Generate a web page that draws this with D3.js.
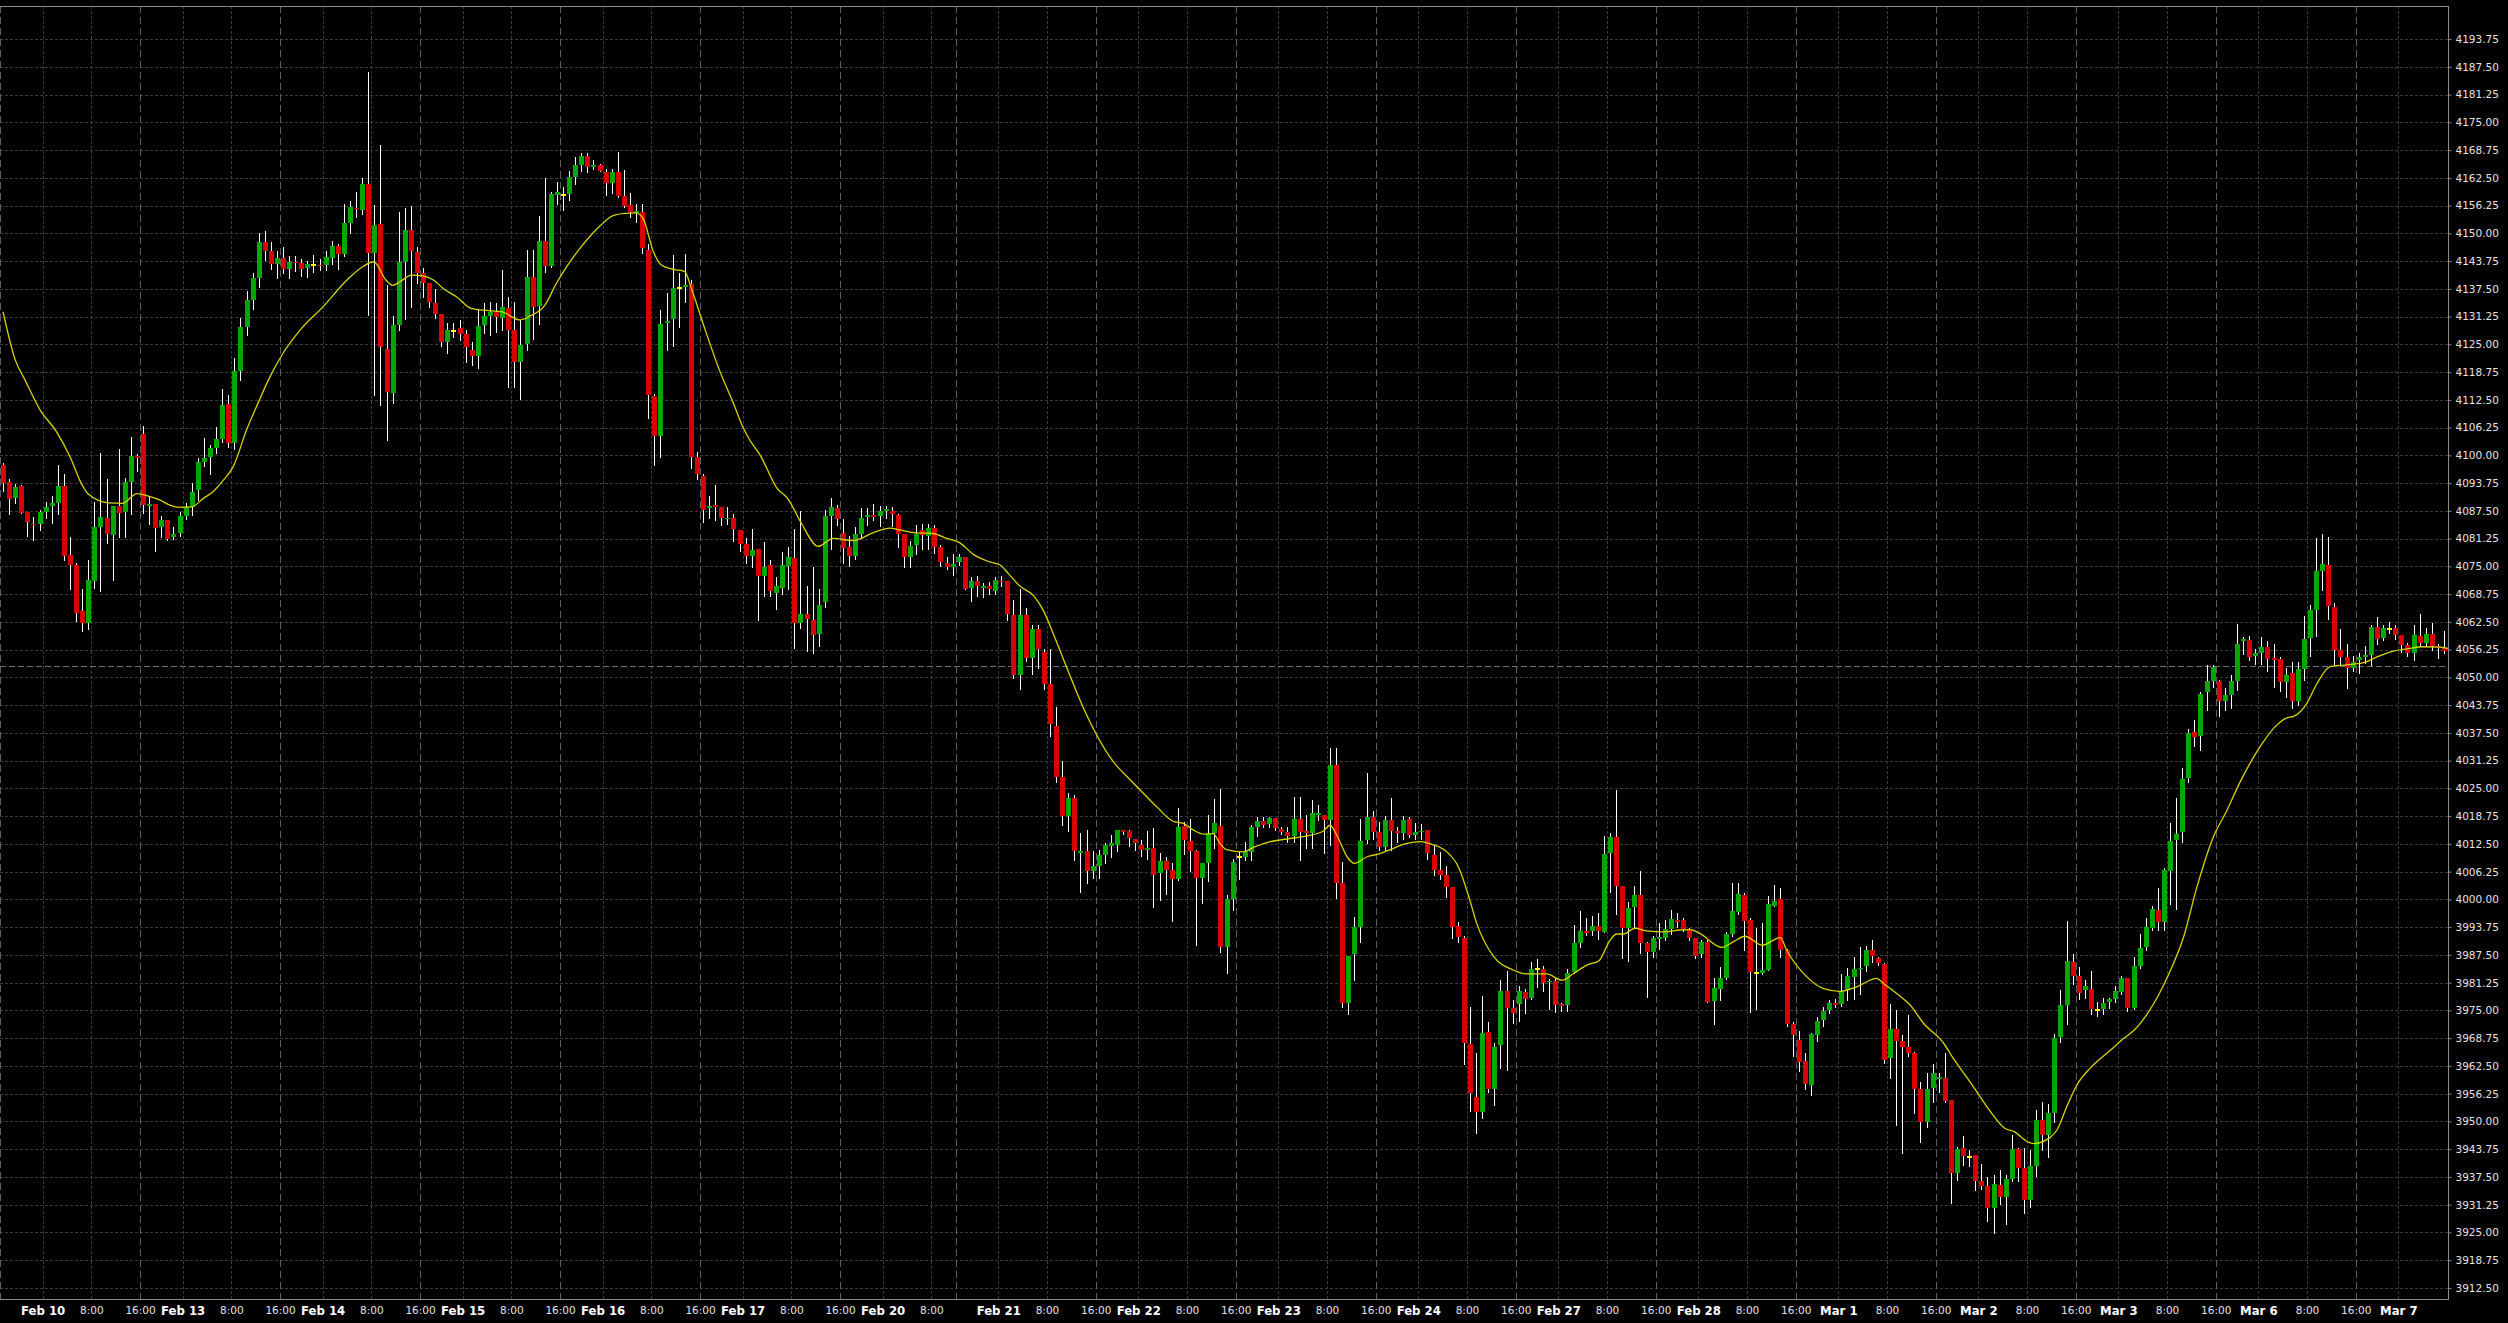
<!DOCTYPE html>
<html><head><meta charset="utf-8">
<script src="https://cdn.jsdelivr.net/npm/d3@7"></script>
<style>html,body{margin:0;padding:0;background:#000;overflow:hidden}</style>
</head><body>
<svg id="chart" width="2508" height="1323"></svg>
<script>
// ---------- DATA ----------
const sessionDays = ["Feb 9","Feb 10","Feb 13","Feb 14","Feb 15","Feb 16","Feb 17","Feb 20","Feb 21","Feb 22","Feb 23","Feb 24","Feb 27","Feb 28","Mar 1","Mar 2","Mar 3","Mar 6","Mar 7"];
const sessionFirstHour = [16,0,0,0,0,0,0,0,0,0,0,0,0,0,0,0,0,0,0];
const sessionLastHour  = [22,22,22,22,22,22,22,22,22,22,22,22,22,22,22,22,22,22,7];
const haltedHours = {"Feb 20":[12,13,14,15]};
const hiddenTimeLabels = ["Feb 9 16:00","Feb 20 16:00"];
const priceTicks = [3912.50,3918.75,3925.00,3931.25,3937.50,3943.75,3950.00,3956.25,3962.50,3968.75,3975.00,3981.25,3987.50,3993.75,4000.00,4006.25,4012.50,4018.75,4025.00,4031.25,4037.50,4043.75,4050.00,4056.25,4062.50,4068.75,4075.00,4081.25,4087.50,4093.75,4100.00,4106.25,4112.50,4118.75,4125.00,4131.25,4137.50,4143.75,4150.00,4156.25,4162.50,4168.75,4175.00,4181.25,4187.50,4193.75];
const levelLine = 4052.6;

const opens = [
4097.8,4093.9,4090.45,4093.1,4087.2,4084.6,4084.6,4087.2,4088.6,4089.2,
4093.1,4077.5,4075.3,4065.0,4062.3,4071.8,4083.9,4085.9,4082.1,4088.7,
4087.3,4094.05,4099.8,4104.8,4088.7,4089.0,4083.8,4085.4,4081.6,4082.6,
4086.4,4088.3,4092.3,4098.6,4099.7,4101.6,4103.7,4111.5,4102.7,4119,
4129,4135,4140,4148,4146,4143,4144.5,4142,4143.5,4143.4,
4142.2,4142.85,4142.9,4142.9,4144.5,4147.1,4145.4,4152.4,4155.8,4155.3,
4161.1,4145.5,4152.1,4123.9,4114.1,4129.3,4143.6,4150.7,4145.85,4141.0,
4138.9,4134.2,4131.8,4125.6,4128.05,4128.6,4127.4,4123.8,4122.4,4129.3,
4131.3,4132.3,4131.0,4133.2,4128.2,4121.1,4125.0,4140.2,4133.6,4148.2,
4142.7,4158.7,4158.6,4158.8,4162.6,4165.3,4167.4,4165.0,4165.3,4163.9,
4161.4,4163.9,4158.5,4156.4,4154.6,4154.9,4146.2,4113.3,4104.3,4129.9,
4130.6,4137.7,4138.0,4138.5,4099.6,4095.3,4088.1,4088.9,4088.4,4085.6,
4085.8,4083.2,4080.0,4077.4,4079.0,4072.9,4075.3,4069.1,4070.2,4075.1,
4076.9,4062.2,4064.3,4062.9,4059.8,4066.9,4086.3,4088.1,4082.6,4079.3,
4077.4,4082.4,4086.1,4086.6,4086.3,4087.5,4087.5,4086.5,4082.2,4077.2,
4079.8,4083.2,4081.9,4083.7,4079.3,4075.8,4074.9,4075.9,4077.0,4070.2,
4071.7,4070.2,4070.6,4069.4,4071.8,4071.7,4064.0,4050.5,4064.0,4054.4,
4060.9,4055.8,4048.5,4039.1,4027.6,4018.8,4022.9,4010.5,4011.0,4006.3,
4007.5,4010.0,4012.1,4012.2,4015.6,4015.4,4013.6,4012.2,4011.2,4011.5,
4005.9,4008.6,4006.6,4004.5,4016.5,4013.1,4010.9,4004.9,4008.2,4015.0,
4016.5,3989.2,4000.0,4009.6,4009.6,4010.7,4016.4,4017.6,4016.9,4018.4,
4015.8,4015.2,4014.2,4018.2,4015.4,4015.0,4019.1,4019.0,4017.9,4030.2,
4003.7,3976.7,3987.8,3993.8,4013.3,4018.5,4015.2,4011.8,4017.9,4015.5,
4015.0,4018.0,4014.6,4015.1,4015.6,4010.0,4006.7,4005.5,4002.8,3994.0,
3991.2,3967.4,3955.5,3952.2,3970.2,3957.4,3967.3,3979.3,3975.6,3976.4,
3979.2,3977.8,3984.4,3984.4,3981.3,3981.6,3976.4,3976.3,3983.7,3990.2,
3992.8,3992.9,3993.9,3992.7,4010.5,4014.0,4003.1,3993.6,3998.3,4001.0,
3990.2,3988.2,3991.1,3991.3,3993.4,3995.3,3995.3,3993.2,3991.2,3987.6,
3990.4,3977.2,3979.9,3982.4,3992.3,3997.2,4000.9,3995.3,3983.5,3983.5,
3984.2,3998.6,4000.0,3988.6,3972.0,3968.3,3963.6,3958.2,3969.4,3972.9,
3975.1,3976.6,3976.4,3979.6,3982.6,3984.3,3984.9,3988.6,3986.9,3985.4,
3964.2,3970.7,3968.2,3966.7,3965.5,3957.2,3949.9,3957.6,3959.6,3959.7,
3954.8,3938.3,3943.9,3942.0,3942.4,3936.6,3935.4,3930.6,3935.6,3932.9,
3937.1,3943.7,3939.6,3932.4,3939.9,3950.4,3946.9,3951.9,3969.1,3976.2,
3985.9,3982.7,3979.7,3979.9,3975.1,3975.2,3977.0,3977.6,3979.2,3982.2,
3975.5,3984.9,3989.2,3993.5,3997.6,3994.8,4006.4,4013.4,4015.1,4027.4,
4037.7,4036.9,4046.8,4049.2,4049.2,4044.7,4046.0,4049.2,4058.2,4058.5,
4054.8,4055.5,4056.8,4054.4,4054.2,4049.0,4050.9,4044.7,4051.9,4058.9,
4065.2,4074.0,4075.4,4065.9,4056.2,4054.6,4052.2,4054.0,4054.6,4055.1,
4061.4,4058.8,4060.9,4061.2,4059.5,4057.3,4055.5,4059.3,4057.8,4059.7,
4057.0,4056.7];

const highs = [
4098.2,4094.65,4093.5,4093.3,4087.2,4086.1,4087.8,4089.5,4090.8,4097.8,
4095.8,4081.7,4075.7,4070.0,4076.4,4089.4,4100.6,4094.65,4088.7,4101.4,
4094.9,4104.1,4100.3,4106.7,4090.8,4089.0,4086.3,4085.4,4083.9,4087.2,
4089.2,4093.7,4099.4,4103.9,4102.3,4106.4,4114.9,4113.6,4122,4131,
4137,4141,4150,4150.5,4148,4146,4147,4145,4145,4144.3,
4143.8,4145.1,4144.3,4146.1,4148.2,4147.7,4156.5,4157.2,4159.3,4162.4,
4186.3,4156.4,4169.9,4138.3,4131.4,4154.9,4155.6,4156.2,4147.0,4142.1,
4138.9,4137.4,4131.8,4129.7,4129.7,4130.4,4128.2,4125.6,4132.7,4134.4,
4134.6,4134.2,4141.7,4135.7,4134.6,4130.5,4146.2,4146.2,4153.9,4162.4,
4159.4,4161.6,4160.5,4164.1,4167.2,4168.0,4168.0,4166.5,4165.7,4164.4,
4164.4,4168.4,4164.2,4159.1,4156.7,4156.7,4147.5,4113.9,4132.7,4136.6,
4145.1,4141.0,4145.3,4139.5,4100.8,4095.8,4090.9,4093.4,4088.4,4088.4,
4086.7,4083.2,4081.3,4083.4,4079.0,4080.5,4076.4,4072.5,4078.2,4079.3,
4083.4,4087.5,4070.5,4074.9,4069.8,4087.8,4090.3,4088.8,4085.7,4081.9,
4083.9,4088.1,4088.1,4089.1,4088.6,4088.6,4088.4,4086.7,4082.4,4080.8,
4084.4,4084.6,4084.6,4084.4,4079.8,4077.0,4077.8,4077.7,4077.2,4072.5,
4072.9,4071.2,4071.5,4072.5,4072.9,4071.7,4067.4,4070.0,4065.6,4061.7,
4061.9,4056.5,4056.3,4043.3,4031.2,4023.9,4023.6,4014.9,4015.7,4010.8,
4011.1,4012.7,4014.5,4015.7,4015.7,4015.6,4013.6,4013.3,4015.4,4016.1,
4010.5,4009.6,4008.2,4020.6,4017.5,4018.2,4011.2,4008.1,4019.0,4022.6,
4024.8,4001.0,4009.2,4010.9,4012.9,4016.7,4018.6,4018.6,4018.6,4018.4,
4016.3,4016.3,4023.1,4023.0,4019.0,4022.4,4021.2,4019.0,4034.0,4034.0,
4008.5,3987.2,3996.1,4018.2,4028.4,4019.9,4017.5,4018.8,4022.9,4016.3,
4018.8,4018.5,4017.1,4016.9,4015.6,4012.2,4010.7,4007.5,4002.8,3995.0,
3991.7,3975.8,3965.4,3978.2,3972.4,3967.6,3981.9,3983.8,3977.3,3980.5,
3979.9,3985.9,3986.5,3984.9,3982.0,3982.2,3976.7,3984.4,3994.2,3997.3,
3995.8,3996.2,3997.0,4014.3,4015.0,4024.6,4003.1,3999.5,4003.0,4006.4,
3990.5,3991.7,3994.6,3995.3,3997.7,3997.0,3995.7,3993.5,3991.4,3990.8,
3990.8,3982.3,3984.8,3992.7,4003.7,4003.6,4001.5,3995.9,3993.5,3994.6,
4000.7,4003.2,4002.5,3988.9,3972.4,3970.4,3965.3,3970.0,3973.6,3975.8,
3977.3,3977.5,3983.1,3984.6,3987.1,3989.3,3989.5,3990.8,3987.1,3985.6,
3976.4,3975.1,3969.4,3973.9,3965.7,3958.9,3960.9,3962.9,3960.8,3965.3,
3954.8,3944.3,3946.7,3943.5,3942.4,3940.4,3937.5,3937.9,3939.0,3937.9,
3946.9,3943.9,3944.1,3943.5,3952.5,3954.4,3954.0,3969.7,3979.6,3995.1,
3987.8,3984.8,3981.8,3983.9,3977.0,3977.9,3977.9,3980.6,3982.7,3982.2,
3987.0,3992.2,3995.9,3998.6,4002.5,4007.0,4017.2,4022.8,4029.6,4038.4,
4040.4,4046.8,4052.8,4052.8,4049.5,4047.6,4050.6,4062.1,4059.2,4059.4,
4056.3,4059.2,4058.2,4057.6,4054.6,4052.2,4053.5,4053.5,4063.9,4066.2,
4081.3,4082.2,4081.5,4066.8,4061.0,4057.6,4054.9,4055.5,4057.1,4061.9,
4063.5,4061.7,4062.5,4061.9,4059.6,4057.8,4061.8,4064.2,4061.2,4062.3,
4057.6,4060.5];

const lows = [
4092.0,4086.9,4089.3,4087.0,4081.9,4080.9,4083.2,4085.9,4084.7,4086.8,
4076.4,4069.8,4062.7,4060.5,4061.0,4070.2,4069.5,4080.3,4071.9,4081.7,
4081.7,4086.9,4096.5,4087.1,4084.5,4078.5,4081.7,4080.9,4081.2,4081.8,
4085.7,4086.5,4089.9,4097.6,4095.8,4100.6,4103.0,4101.9,4101.5,4117,
4127,4133,4138,4144,4142,4140,4141,4140,4141.5,4140.4,
4140.1,4141.4,4141.7,4141.7,4143.1,4142.0,4144.9,4150.1,4153.6,4154.3,
4131.6,4113.5,4111.3,4103.4,4111.8,4128.2,4130.8,4133.5,4138.9,4135.7,
4133.5,4131.0,4124.6,4123.0,4126.7,4125.9,4121.1,4120.3,4119.6,4127.5,
4127.1,4127.8,4128.2,4115.4,4115.4,4112.6,4123.8,4126.1,4129.6,4141.2,
4142.5,4156.6,4155.2,4157.6,4161.1,4164.1,4163.9,4164.5,4164.0,4158.6,
4159.0,4158.2,4156.0,4153.7,4152.6,4145.5,4108.5,4097.9,4099.6,4123.8,
4124.6,4128.9,4134.6,4097.1,4094.6,4085.0,4086.0,4085.5,4084.4,4084.6,
4080.8,4078.4,4075.7,4074.9,4062.9,4068.4,4068.4,4065.3,4068.7,4070.0,
4056.7,4061.2,4056.0,4055.5,4057.0,4065.8,4078.8,4084.4,4075.7,4075.1,
4076.6,4081.3,4084.4,4085.5,4084.2,4086.0,4084.2,4079.3,4074.9,4074.9,
4077.7,4079.0,4078.8,4078.0,4075.1,4074.3,4073.1,4075.3,4069.8,4067.1,
4068.4,4068.1,4068.7,4068.7,4070.5,4062.9,4049.8,4047.4,4053.6,4050.8,
4052.2,4047.4,4036.9,4026.5,4016.7,4015.4,4008.9,4001.7,4003.8,4004.8,
4004.9,4008.2,4009.6,4011.0,4014.8,4012.1,4011.2,4009.7,4009.2,3998.3,
3999.8,4001.2,3995.2,4004.3,4010.2,4006.4,3989.7,3999.2,4004.2,4011.5,
3988.2,3983.5,3997.6,4004.7,4008.8,4008.8,4014.2,4016.3,4016.3,4015.6,
4014.8,4013.0,4013.0,4008.8,4011.5,4011.5,4017.9,4010.5,4012.2,4000.2,
3975.8,3974.2,3981.8,3990.4,4012.7,4013.7,4011.2,4011.2,4011.2,4013.0,
4013.7,4014.1,4013.7,4013.7,4009.0,4005.5,4004.7,4000.6,3991.2,3990.4,
3963.0,3952.4,3947.3,3950.7,3956.7,3953.6,3962.1,3961.5,3972.2,3972.6,
3974.5,3977.5,3980.3,3979.4,3975.4,3974.7,3974.9,3974.9,3983.5,3989.3,
3992.0,3991.9,3991.0,3992.7,4001.7,3996.7,3986.7,3986.2,3993.7,3988.0,
3978.1,3987.1,3988.9,3990.8,3992.3,3993.8,3992.9,3990.8,3986.7,3987.1,
3976.9,3971.9,3977.3,3982.0,3991.7,3996.7,3988.6,3974.7,3975.4,3983.3,
3984.2,3998.4,3987.1,3971.5,3964.7,3961.4,3957.4,3955.9,3968.2,3971.5,
3974.3,3975.8,3976.0,3977.3,3977.5,3978.8,3983.9,3986.0,3985.2,3963.1,
3959.7,3949.2,3942.8,3964.7,3951.9,3945.4,3948.8,3954.4,3956.7,3954.4,
3931.7,3936.8,3940.2,3939.9,3934.5,3934.7,3927.6,3924.8,3931.4,3926.8,
3936.6,3936.6,3929.4,3930.8,3937.7,3943.5,3942.0,3949.9,3967.9,3971.9,
3980.9,3977.5,3977.7,3974.2,3973.8,3974.1,3975.5,3977.0,3978.8,3974.9,
3975.2,3984.6,3988.7,3993.2,3993.0,3993.0,3998.9,3997.8,4012.9,4026.4,
4034.5,4033.7,4042.7,4047.9,4041.2,4042.7,4043.1,4047.1,4055.2,4053.8,
4053.1,4053.1,4051.4,4047.9,4047.0,4045.5,4043.1,4043.8,4049.4,4054.9,
4059.4,4069.7,4063.2,4053.1,4053.1,4047.7,4051.4,4050.9,4053.3,4052.8,
4057.6,4058.4,4060.0,4058.7,4055.7,4054.8,4054.0,4057.1,4057.1,4056.1,
4054.3,4055.4];

const closes = [
4093.8,4090.2,4092.8,4087.1,4085.05,4084.3,4087.2,4088.3,4089.3,4093.1,
4077.3,4075.3,4064.5,4062.3,4071.9,4083.8,4086.1,4082.3,4088.7,4087.07,
4094.0,4099.8,4099.5,4088.9,4089.1,4083.7,4085.5,4081.1,4082.3,4086.3,
4088.3,4091.7,4098.5,4099.5,4101.6,4103.7,4111.3,4102.7,4119,4129,
4135,4140,4148,4146,4143,4144.5,4142,4143.5,4143.4,4141.9,
4143.1,4142.85,4142.7,4144.6,4147.1,4145.3,4152.4,4156.0,4155.5,4161.1,
4145.5,4151.8,4124.3,4114.3,4129.3,4143.6,4150.7,4146.0,4141.0,4138.9,
4134.6,4131.8,4125.6,4128.2,4128.05,4127.4,4124.3,4122.4,4129.1,4131.3,
4132.3,4131.1,4133.4,4128.2,4121.1,4124.8,4140.2,4133.5,4148.2,4142.7,
4158.8,4159.2,4158.6,4162.6,4165.3,4167.4,4165.0,4165.5,4164.1,4161.4,
4163.9,4158.5,4156.2,4154.8,4155.1,4146.8,4113.5,4104.3,4129.6,4130.2,
4137.6,4137.7,4138.3,4099.7,4095.8,4087.8,4088.6,4088.4,4085.8,4086.0,
4083.4,4080.0,4077.4,4078.6,4072.9,4074.9,4069.4,4070.5,4075.3,4077.0,
4062.2,4064.3,4063.2,4059.6,4066.3,4086.3,4088.3,4085.7,4079.1,4077.4,
4082.2,4086.0,4086.5,4086.1,4087.5,4087.9,4086.9,4082.4,4077.2,4079.6,
4082.4,4082.1,4083.7,4079.3,4076.0,4074.9,4075.5,4077.0,4070.0,4071.7,
4070.5,4070.6,4069.8,4071.9,4071.5,4064.3,4050.5,4064.0,4054.4,4060.9,
4056.3,4048.5,4039.5,4027.6,4018.8,4022.9,4010.8,4011.0,4006.3,4007.5,
4010.0,4012.2,4012.6,4015.6,4015.2,4013.9,4012.8,4011.2,4011.5,4005.6,
4008.6,4006.6,4004.5,4016.4,4013.3,4010.9,4004.9,4008.1,4014.8,4017.1,
3989.2,4000.0,4008.5,4009.6,4010.7,4016.4,4017.6,4016.7,4018.4,4016.0,
4015.2,4014.3,4018.0,4015.2,4015.0,4019.4,4019.4,4017.9,4030.2,4003.7,
3976.7,3987.2,3993.8,4013.1,4018.5,4015.2,4011.8,4017.9,4015.5,4015.0,
4017.9,4014.5,4015.1,4015.3,4010.5,4006.7,4005.5,4002.8,3993.8,3991.6,
3967.6,3956.3,3952.2,3969.8,3957.4,3966.8,3979.3,3975.6,3974.5,3979.3,
3977.5,3984.4,3984.4,3981.2,3981.6,3976.3,3976.0,3983.5,3990.1,3992.8,
3992.5,3993.9,3992.9,4010.3,4014.0,4003.0,3993.6,3998.0,4001.0,3990.2,
3988.2,3991.2,3991.6,3993.3,3995.6,3995.0,3993.4,3991.3,3987.2,3990.4,
3976.9,3980.1,3982.2,3992.3,3997.4,4001.3,3995.1,3983.7,3983.5,3984.2,
3998.9,3999.7,3988.6,3971.9,3969.4,3963.4,3958.4,3969.7,3972.6,3974.9,
3976.7,3976.2,3979.3,3982.7,3984.4,3984.6,3988.6,3987.2,3985.7,3963.9,
3970.7,3968.2,3966.7,3965.5,3957.4,3949.9,3957.2,3960.8,3960.0,3954.6,
3938.3,3943.7,3942.2,3942.0,3936.6,3935.4,3930.6,3935.9,3932.9,3937.1,
3943.7,3939.6,3932.4,3939.9,3950.3,3946.9,3951.8,3968.7,3976.2,3986.1,
3982.7,3979.0,3980.4,3975.2,3975.1,3976.6,3977.5,3979.4,3982.4,3975.5,
3985.1,3989.0,3993.7,3997.8,3994.9,4006.6,4013.1,4014.8,4027.1,4037.4,
4036.6,4046.3,4049.2,4052.4,4044.7,4046.0,4049.2,4057.6,4058.7,4054.6,
4055.5,4056.8,4054.2,4053.9,4049.0,4050.6,4044.7,4051.9,4058.7,4065.2,
4074.0,4075.6,4066.0,4056.2,4054.6,4052.2,4053.5,4054.6,4055.1,4061.4,
4058.7,4061.2,4060.9,4059.5,4057.3,4055.4,4059.5,4057.8,4059.7,4057.0,
4056.8,4056.0];

// moving average: [candle index, value]
const maSamples = [
[0,4132.3],[2,4121.5],[3.6,4117],[6.1,4110.2],[8.8,4105.3],[11,4099.7],[13,4093.3],[14,4091.3],[17.4,4089.3],[19.6,4089.2],
[22,4091.4],[23.9,4090.8],[25.8,4089.9],[27.4,4088.8],[29,4088.3],[31,4088.4],[32.9,4090.3],[34.5,4091.8],[36.2,4094.4],[37.8,4097.4],
[40,4105.7],[42,4112.1],[43.6,4117],[46,4123],[48.8,4128.2],[52.6,4133.5],[56.5,4139.5],[59.2,4142.6],[60.9,4143.6],[62.9,4139.5],
[64,4138.3],[65.2,4139.1],[67.1,4140.6],[68.9,4140.4],[70.7,4139.5],[72.3,4137.6],[74.5,4135.7],[76.9,4133.1],[78.9,4132.7],[82,4132.3],
[84.9,4130.5],[86.6,4131.4],[89,4133.8],[90.9,4138.7],[92.6,4142.5],[95,4147],[98.1,4151.7],[100.2,4154],[102.2,4154.5],[104,4154.6],
[105.2,4153.2],[106.8,4146],[108.2,4142.8],[110.1,4141.9],[112,4141.4],[113.1,4137.5],[115,4129.7],[117.8,4118.8],[120,4111.7],[121.6,4106.2],
[122.7,4103.4],[124.4,4100],[127.1,4092.7],[129,4090.1],[131.2,4084.6],[133.9,4079.5],[136.4,4081.3],[139.7,4080.8],[143,4082.6],[145.7,4083.6],
[147.4,4083.2],[149.6,4082.6],[152.8,4082.4],[155,4081.3],[157.2,4080.3],[159.4,4077.7],[162.1,4076],[163.8,4075.3],[165.2,4073.3],[167.1,4070.5],
[169.3,4068.4],[171,4064.8],[172.6,4059.6],[175.3,4050.3],[177.2,4044],[179.4,4037.7],[182.4,4031],[185.2,4026.9],[187.9,4023.1],[189.5,4020.9],
[192.2,4017.6],[193.9,4017.1],[195.6,4015.6],[197.2,4014.7],[198.8,4014.8],[199.9,4012.6],[201,4011.2],[203.8,4010.7],[205.4,4011.7],[208.2,4013],
[210.9,4013.6],[214.2,4014.3],[216.9,4015.4],[218,4016.7],[219.1,4014.5],[220.8,4009.6],[222,4008.1],[224.1,4009.6],[226.2,4010.3],[227.9,4011.2],
[230,4012.4],[232.8,4013],[234.2,4012.6],[237.2,4010.7],[239.1,4007.3],[240.8,4000.6],[242.1,3994.6],[244.9,3987.1],[248.1,3984.1],[250.3,3983.2],
[253.6,3983.2],[256.1,3981.8],[258,3983.3],[260.2,3985.2],[262.2,3986.2],[264,3990.8],[265.1,3992.2],[266.2,3992.2],[268.1,3993.5],[270,3992.9],
[272.8,3992.7],[275.5,3993.1],[277.2,3993.2],[278.8,3992.3],[282.4,3989.2],[284.3,3990.5],[286.2,3991.7],[289,3989.7],[292,3991.4],[293,3988.6],
[296.3,3982.6],[299.1,3979.9],[301.8,3979.3],[304.5,3980.3],[307.8,3982.2],[308.9,3981.1],[311.1,3978.8],[313.3,3976.2],[315.5,3972.1],[318.8,3967.6],
[320.4,3964.2],[323.7,3957.8],[326.5,3952.2],[328.9,3948.4],[330.4,3947.7],[332.6,3945.4],[333.6,3945.0],[336.3,3946.4],[337.4,3948.0],[339.1,3953.5],
[340.7,3958.2],[342.9,3962],[344.6,3964.2],[346.2,3966],[348.4,3968.7],[350,3970.4],[352.2,3974.1],[354.1,3978.4],[356,3983.8],[358.2,3991.4],
[360.4,4002.7],[363.1,4014],[365.3,4019.9],[367.5,4026.4],[370.8,4034.4],[373.2,4038.8],[375.2,4040.9],[376.3,4041.2],[378.5,4044.2],[380.1,4048.5],
[382.3,4052.4],[385,4052.8],[387.8,4053.3],[390,4054.6],[392.7,4055.9],[394.9,4056.4],[397.6,4056.9],[400.4,4056.8],[401.7,4056.5]];

// ---------- LAYOUT ----------
const W = 2508, H = 1323;
const plot = {left: 0, right: 2447, top: 6, bottom: 1299};
const frameRight = 2448;

const svg = d3.select("#chart");
svg.append("rect").attr("width", W).attr("height", H).attr("fill", "#000");

// candle time categories
const times = [];
sessionDays.forEach((day, k) => {
  const halted = haltedHours[day] || [];
  for (let h = sessionFirstHour[k]; h <= sessionLastHour[k]; h++) {
    if (halted.includes(h)) continue;
    times.push({day, hour: h, i: times.length});
  }
});
const n = opens.length;

const x = d3.scaleLinear().domain([-0.5, n - 0.5]).range([plot.left, plot.right]);
const y = d3.scaleLinear().domain([3910.0, 4201.2]).range([plot.bottom, plot.top]);

const px = v => Math.round(v) + 0.5;

// ---------- GRID ----------
const grid = svg.append("g").attr("shape-rendering", "crispEdges");
grid.selectAll("line.h").data(priceTicks).join("line").attr("class", "h")
  .attr("x1", plot.left).attr("x2", frameRight)
  .attr("y1", d => px(y(d))).attr("y2", d => px(y(d)))
  .attr("stroke", "#3a3a3a").attr("stroke-dasharray", "3,2");

const gridTimes = times.filter(t => t.hour === 0 || t.hour === 8 || t.hour === 16);
grid.selectAll("line.v").data(gridTimes).join("line").attr("class", "v")
  .attr("x1", d => px(x(d.i - 0.5))).attr("x2", d => px(x(d.i - 0.5)))
  .attr("y1", plot.top).attr("y2", plot.bottom)
  .attr("stroke", d => d.hour === 16 ? "#5e5e5e" : "#3a3a3a")
  .attr("stroke-dasharray", d => d.hour === 16 ? "7,4" : "3,2");

// level line
grid.append("line")
  .attr("x1", plot.left).attr("x2", plot.right)
  .attr("y1", px(y(levelLine))).attr("y2", px(y(levelLine)))
  .attr("stroke", "#707070").attr("stroke-dasharray", "6,3");

// ---------- CANDLES ----------
const candles = d3.range(n).map(i => ({i, o: opens[i], h: highs[i], l: lows[i], c: closes[i]}));
const cg = svg.append("g").attr("shape-rendering", "crispEdges");
cg.selectAll("line.wick").data(candles).join("line").attr("class", "wick")
  .attr("x1", d => px(x(d.i))).attr("x2", d => px(x(d.i)))
  .attr("y1", d => Math.round(y(Math.max(d.h, d.o, d.c))))
  .attr("y2", d => Math.round(y(Math.min(d.l, d.o, d.c))) + 1)
  .attr("stroke", "#ffffff").attr("stroke-width", 1);

cg.selectAll("rect.body").data(candles).join("rect").attr("class", "body")
  .attr("x", d => Math.round(x(d.i)) - 2)
  .attr("width", 5)
  .attr("y", d => d.o === d.c ? Math.round(y(d.o)) - 1 : Math.round(y(Math.max(d.o, d.c))))
  .attr("height", d => d.o === d.c ? 2 :
        Math.max(1, Math.round(y(Math.min(d.o, d.c))) - Math.round(y(Math.max(d.o, d.c)))))
  .attr("fill", d => d.o === d.c ? "#ffff00" : (d.c > d.o ? "#00a800" : "#d80000"));

// ---------- MOVING AVERAGE ----------
const maLine = d3.line().x(d => x(d[0])).y(d => y(d[1])).curve(d3.curveMonotoneX);
svg.append("path").datum(maSamples).attr("d", maLine)
  .attr("fill", "none").attr("stroke", "#d8d400").attr("stroke-width", 1.3);

// ---------- FRAME ----------
svg.append("rect").attr("x", -1).attr("y", plot.top + 0.5)
  .attr("width", frameRight + 1.5).attr("height", plot.bottom - plot.top)
  .attr("fill", "none").attr("stroke", "#8c8c8c").attr("shape-rendering", "crispEdges");

// ---------- PRICE AXIS ----------
const yAxis = d3.axisRight(y).tickValues(priceTicks).tickFormat(d3.format(".2f")).tickSize(3).tickPadding(4);
const ya = svg.append("g").attr("transform", `translate(${frameRight + 0.5},0)`).call(yAxis);
ya.select(".domain").remove();
ya.selectAll(".tick line").attr("stroke", "#8c8c8c");
ya.selectAll(".tick text").attr("fill", "#e4e4e4")
  .style("font-family", "'DejaVu Sans', Verdana, sans-serif").style("font-size", "10.5px");

// ---------- TIME AXIS ----------
const labelTimes = gridTimes.filter(t => !hiddenTimeLabels.includes(t.day + " " + t.hour + ":00"));
const xAxis = d3.axisBottom(x).tickValues(labelTimes.map(t => t.i - 0.5))
  .tickSize(0).tickPadding(0)
  .tickFormat((v, k) => { const t = labelTimes[k]; return t.hour === 0 ? t.day : t.hour + ":00"; });
const xa = svg.append("g").attr("transform", `translate(0,${plot.bottom})`).call(xAxis);
xa.select(".domain").remove();
xa.selectAll(".tick text").each(function(v, k) {
  const t = labelTimes[k];
  const s = d3.select(this).attr("y", 11).attr("dy", null).attr("dominant-baseline", "central");
  if (t.hour === 0) {
    s.attr("fill", "#ffffff").style("font-family", "'DejaVu Sans Condensed','Liberation Sans Narrow','DejaVu Sans',sans-serif")
     .style("font-weight", "bold").style("font-stretch", "condensed").style("font-size", "13px");
  } else {
    s.attr("fill", "#e4e4e4").style("font-family", "'DejaVu Sans', Verdana, sans-serif").style("font-size", "10.5px");
  }
});
</script>
</body></html>
